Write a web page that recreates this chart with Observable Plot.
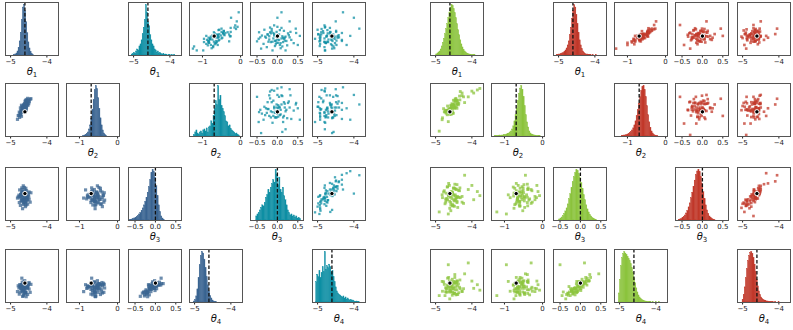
<!DOCTYPE html>
<html><head><meta charset="utf-8">
<script src="https://cdn.jsdelivr.net/npm/d3@7"></script>
<script src="https://cdn.jsdelivr.net/npm/@observablehq/plot@0.6"></script>
<style>
body{margin:0;background:#fff;}
#chart{position:relative;width:793px;height:330px;overflow:hidden;background:#fff;}
#chart svg{position:absolute;overflow:visible;}
</style></head><body><div id="chart"></div>
<script>
// ---------- data ----------
const paramNames = ["θ1","θ2","θ3","θ4"];
const truth = [-4.605, -0.693, 0, -4.605];
const domains = [[-5.14,-3.68],[-1.34,0.05],[-0.66,0.64],[-5.14,-3.68]];
const tickVals = [[-5,-4],[-1,0],[-0.5,0,0.5],[-5,-4]];
const tickFmts = ["d","d",".1f","d"];

// histogram bins: range per parameter + counts
const blueHistLo = [-4.90,-0.90,-0.64,-5.02];
const blueHistHi = [-4.36,-0.27,0.23,-4.38];
const blueHistCounts = [
 [1,2,4,8,15,28,45,70,95,100,88,66,44,26,14,7,3,1],
 [1,2,3,5,8,14,22,35,52,72,92,100,94,76,55,36,22,12,6,3,1],
 [1,1,2,3,4,5,7,9,12,15,19,24,30,37,45,55,66,80,94,100,96,85,68,48,30,17,8,4,1],
 [2,5,12,26,48,74,92,100,97,85,68,50,34,22,13,8,4,2,1,1]
];
const tealHistLo = [-5.05,-1.22,-0.52,-5.04];
const tealHistHi = [-3.85,-0.02,0.58,-3.84];
const tealHistCounts = [
 [2,3,5,4,8,12,10,18,22,30,42,55,70,100,85,66,58,40,30,22,18,12,10,6,8,4,5,3,2,3,1,2,1,0,1,1,0,1,0,1],
 [3,8,12,6,4,8,10,6,12,14,10,16,8,18,20,30,25,40,55,70,62,100,72,80,60,55,48,40,30,28,20,22,15,12,10,8,5,6,3,2],
 [8,12,15,20,25,30,28,35,45,50,60,55,65,72,80,75,100,90,70,85,60,55,65,48,40,30,20,15,10,12,8,10,6,8,4,5,3],
 [40,55,50,62,48,58,70,60,100,65,72,68,75,70,58,62,50,40,30,22,18,15,14,12,10,12,8,10,6,8,5,4,5,3,4,2,1,2,1,1]
];
const greenHistLo = [-4.98,-1.25,-0.52,-5.02];
const greenHistHi = [-3.90,-0.05,0.41,-3.88];
const greenHistCounts = [
 [2,4,6,8,12,18,25,33,42,52,62,74,85,95,100,98,92,84,74,62,50,40,30,22,16,11,8,6,4,3,2,2,1,1,1,1],
 [1,1,1,1,2,1,2,2,3,3,4,5,6,8,10,14,20,30,42,55,70,85,95,100,92,78,60,42,28,18,10,6,4,3,2,2,1,1,1,1],
 [2,4,6,9,13,18,24,32,42,52,64,76,86,94,100,98,92,84,74,62,50,40,30,22,16,11,8,5,3,2,1],
 [18,45,72,88,96,100,97,94,90,86,82,76,68,58,48,38,28,20,14,10,7,5,4,3,2,2,1,1,1,1,0,1,0,0,1,0,0,1]
];
const redHistLo = [-5.05,-1.15,-0.58,-5.00];
const redHistHi = [-3.94,-0.19,0.32,-3.98];
const redHistCounts = [
 [1,1,2,2,3,4,5,7,10,14,20,28,40,55,72,88,100,95,80,62,45,30,20,13,8,5,3,2,2,1,1,1,0,1,0,0,1],
 [1,1,2,2,3,4,5,7,9,12,16,22,30,40,52,65,78,90,98,100,92,78,60,42,28,17,10,6,3,2,1,1],
 [1,2,3,5,7,10,14,19,26,34,44,55,67,79,90,97,100,96,86,72,56,42,30,20,13,8,5,3,2,1],
 [5,15,30,48,66,82,92,98,100,96,88,75,60,45,32,22,15,10,7,5,4,3,2,2,1,1,1,1,1,0,1,0,0,1]
];

// posterior samples [θ1, θ2, θ3, θ4]
const blueSamples = [
[-4.61,-0.48,-0.14,-4.75],[-4.72,-0.75,-0.02,-4.70],[-4.56,-0.45,0.07,-4.64],[-4.65,-0.57,-0.27,-4.96],
[-4.50,-0.48,-0.08,-4.62],[-4.69,-0.61,-0.19,-4.82],[-4.62,-0.49,0.15,-4.62],[-4.77,-0.79,-0.04,-4.74],
[-4.58,-0.53,-0.10,-4.67],[-4.66,-0.61,0.02,-4.69],[-4.53,-0.34,-0.16,-4.74],[-4.70,-0.81,-0.13,-4.75],
[-4.63,-0.55,0.04,-4.67],[-4.46,-0.36,-0.21,-4.86],[-4.74,-0.73,-0.07,-4.71],[-4.59,-0.40,-0.32,-4.88],
[-4.65,-0.66,-0.01,-4.81],[-4.57,-0.61,-0.09,-4.73],[-4.68,-0.61,0.10,-4.58],[-4.55,-0.49,-0.15,-4.66],
[-4.81,-0.89,-0.11,-4.84],[-4.61,-0.52,-0.03,-4.73],[-4.64,-0.51,-0.23,-4.79],[-4.52,-0.52,0.01,-4.69],
[-4.71,-0.69,-0.17,-4.65],[-4.60,-0.66,0.08,-4.66],[-4.67,-0.59,-0.37,-4.97],[-4.57,-0.37,-0.05,-4.61],
[-4.73,-0.77,-0.09,-4.70],[-4.49,-0.43,-0.14,-4.77],[-4.69,-0.55,0.03,-4.76],[-4.63,-0.60,-0.20,-4.88],
[-4.54,-0.51,-0.07,-4.74],[-4.65,-0.66,-0.16,-4.69],[-4.58,-0.45,0.13,-4.66],[-4.76,-0.70,-0.22,-4.91],
[-4.61,-0.53,-0.02,-4.54],[-4.66,-0.70,-0.10,-4.78],[-4.53,-0.45,-0.26,-4.92],[-4.70,-0.52,-0.05,-4.65],
[-4.62,-0.61,-0.13,-4.77],[-4.44,-0.35,0.02,-4.64],[-4.68,-0.68,0.05,-4.65],[-4.57,-0.58,-0.19,-4.98],
[-4.73,-0.59,-0.29,-4.85],[-4.61,-0.63,-0.04,-4.60],[-4.65,-0.53,0.19,-4.62],[-4.56,-0.56,-0.11,-4.73],
[-4.79,-0.79,-0.08,-4.68],[-4.59,-0.51,-0.21,-4.86],[-4.69,-0.69,0.01,-4.67],[-4.51,-0.38,-0.03,-4.65],
[-4.64,-0.65,-0.15,-4.93],[-4.60,-0.42,-0.25,-4.83],[-4.75,-0.84,0.09,-4.65],[-4.55,-0.40,-0.09,-4.68],
[-4.67,-0.59,-0.17,-4.84],[-4.63,-0.61,-0.07,-4.57],[-4.49,-0.41,0.04,-4.59],[-4.72,-0.66,-0.02,-4.75],
[-4.57,-0.65,-0.28,-4.87],[-4.65,-0.59,-0.04,-4.74],[-4.61,-0.58,-0.20,-4.88],[-4.69,-0.68,0.14,-4.47]
];
const tealSamples = [
[-4.71,-0.56,0.04,-4.62],[-4.56,-0.62,-0.24,-4.90],[-4.46,-0.44,0.16,-4.49],[-4.88,-0.72,-0.06,-4.94],
[-4.64,-0.58,0.30,-4.41],[-4.77,-0.84,-0.16,-4.71],[-4.35,-0.08,0.00,-4.79],[-4.59,-0.74,-0.38,-4.93],
[-4.67,-0.50,0.10,-4.61],[-4.52,-0.40,-0.10,-4.84],[-4.74,-0.64,0.22,-4.33],[-4.70,-0.80,-0.20,-4.93],
[-4.49,-0.50,-0.02,-4.65],[-4.80,-0.66,0.40,-4.52],[-4.62,-0.78,-0.30,-4.76],[-4.94,-0.76,0.08,-4.54],
[-4.55,-0.56,-0.08,-4.98],[-4.65,-0.84,0.14,-4.57],[-4.41,-0.12,-0.14,-4.89],[-4.73,-0.58,0.18,-4.48],
[-4.68,-0.96,-0.46,-5.07],[-4.58,-0.60,0.02,-4.61],[-4.83,-0.68,-0.04,-4.63],[-4.53,-0.46,0.26,-4.66],
[-4.76,-0.62,-0.22,-4.73],[-4.44,-0.58,0.06,-4.73],[-5.00,-0.98,-0.12,-4.79],[-4.61,-0.28,0.12,-4.45],
[-4.65,-0.60,-0.28,-4.94],[-4.71,-0.88,0.34,-4.33],[-4.50,-0.34,-0.18,-4.90],[-4.79,-0.84,-0.02,-4.78],
[-4.62,-0.68,0.20,-4.55],[-4.74,-0.84,-0.06,-4.59],[-4.38,-0.26,0.10,-4.66],[-4.82,-0.90,-0.34,-4.93],
[-4.56,-0.30,0.04,-4.57],[-4.67,-0.80,-0.10,-4.81],[-4.86,-0.86,0.24,-4.60],[-4.61,-0.26,-0.20,-4.75],
[-4.70,-0.74,0.00,-4.70],[-4.52,-0.46,0.46,-4.33],[-4.47,-0.44,-0.14,-4.85],[-4.77,-0.96,0.14,-4.81],
[-4.91,-0.72,-0.26,-4.81],[-4.59,-0.52,0.02,-4.64],[-4.31,-0.14,-0.08,-4.81],[-4.68,-0.80,0.16,-4.53],
[-4.64,-0.64,-0.42,-4.92],[-4.80,-0.64,0.08,-4.77],[-4.53,-0.68,-0.16,-4.72],[-4.58,-0.42,0.28,-4.42],
[-4.73,-0.84,-0.04,-4.93],[-4.85,-0.78,0.06,-4.48],[-4.43,-0.56,-0.32,-5.00],[-4.65,-0.48,0.18,-4.45],
[-4.76,-0.70,-0.12,-4.81],[-4.62,-0.58,-0.02,-4.53],[-4.49,-0.26,0.32,-4.49],[-4.56,-0.44,-0.24,-4.98],
[-4.89,-1.22,0.12,-4.56],[-4.59,-0.60,-0.08,-4.74],[-4.79,-0.82,0.02,-4.77],[-4.37,-0.16,-0.18,-4.80],
[-4.20,-0.10,0.30,-4.50],[-4.95,-1.25,-0.40,-4.60],[-3.95,-0.05,0.10,-4.30],[-4.60,-0.90,0.55,-4.10],
[-4.75,-0.30,-0.50,-4.95],[-4.40,-0.50,0.45,-3.85],[-5.00,-1.15,0.20,-4.80],[-4.50,-0.70,-0.45,-4.65],
[-4.10,-0.25,0.00,-4.00],[-4.85,-0.60,0.50,-4.20]
];
const greenSamples = [
[-4.57,-0.55,0.01,-4.67],[-4.41,-0.60,-0.19,-4.91],[-4.43,-0.38,0.11,-4.59],[-4.71,-0.67,-0.16,-4.86],
[-4.47,-0.59,0.13,-4.45],[-4.69,-0.66,-0.12,-4.76],[-4.32,-0.16,-0.10,-4.76],[-4.54,-0.59,-0.30,-4.94],
[-4.50,-0.53,-0.04,-4.60],[-4.36,-0.47,-0.09,-4.87],[-4.67,-0.54,0.17,-4.47],[-4.53,-0.73,-0.27,-4.85],
[-4.46,-0.42,-0.03,-4.71],[-4.62,-0.64,0.20,-4.54],[-4.58,-0.60,-0.22,-4.82],[-4.76,-0.69,0.07,-4.64],
[-4.48,-0.48,-0.18,-4.89],[-4.60,-0.65,-0.01,-4.56],[-4.27,-0.27,-0.21,-4.83],[-4.54,-0.60,0.04,-4.50],
[-4.61,-0.75,-0.36,-5.04],[-4.53,-0.50,0.02,-4.70],[-4.65,-0.66,-0.04,-4.69],[-4.37,-0.51,0.08,-4.63],
[-4.58,-0.61,-0.28,-4.70],[-4.40,-0.48,-0.07,-4.69],[-4.81,-0.85,-0.10,-4.83],[-4.44,-0.39,0.10,-4.57],
[-4.48,-0.60,-0.31,-4.88],[-4.64,-0.69,0.25,-4.45],[-4.44,-0.34,-0.13,-4.93],[-4.72,-0.65,-0.13,-4.73],
[-4.57,-0.54,0.05,-4.57],[-4.57,-0.76,-0.06,-4.66],[-4.34,-0.28,0.07,-4.72],[-4.74,-0.70,-0.25,-4.95],
[-4.40,-0.40,-0.09,-4.56],[-4.61,-0.62,-0.19,-4.76],[-4.68,-0.77,0.16,-4.66],[-4.46,-0.36,-0.16,-4.79],
[-4.53,-0.69,-0.01,-4.76],[-4.47,-0.40,0.23,-4.37],[-4.41,-0.40,-0.22,-4.79],[-4.71,-0.73,0.01,-4.76],
[-4.72,-0.68,-0.21,-4.84],[-4.43,-0.55,-0.10,-4.63],[-4.27,-0.20,-0.07,-4.84],[-4.51,-0.73,0.13,-4.62],
[-4.58,-0.52,-0.42,-4.85],[-4.64,-0.61,-0.06,-4.72],[-4.50,-0.54,-0.15,-4.75],[-4.41,-0.49,0.22,-4.54],
[-4.67,-0.66,-0.15,-4.85],[-4.78,-0.61,0.04,-4.57],[-4.39,-0.47,-0.34,-4.92],[-4.50,-0.51,0.14,-4.56],
[-4.60,-0.65,-0.09,-4.85],[-4.46,-0.58,-0.06,-4.59],[-4.33,-0.38,0.14,-4.52],[-4.51,-0.39,-0.30,-4.89],
[-4.82,-0.90,-0.03,-4.56],[-4.55,-0.48,-0.12,-4.75],[-4.61,-0.75,0.01,-4.81],[-4.23,-0.30,-0.24,-4.76],
[-3.85,-0.12,0.05,-4.65],[-3.95,-0.20,-0.15,-4.75],[-4.10,-0.30,0.10,-4.05],[-3.78,-0.08,-0.05,-4.80],
[-4.90,-1.20,-0.45,-4.95],[-4.20,-0.45,0.45,-4.35],[-4.65,-0.95,-0.50,-4.10],[-4.00,-0.15,0.20,-4.55]
];
const redSamples = [
[-4.55,-0.50,-0.11,-4.74],[-4.68,-0.84,0.05,-4.69],[-4.48,-0.48,0.03,-4.52],[-4.66,-0.54,-0.25,-5.00],
[-4.47,-0.45,-0.01,-4.61],[-4.63,-0.68,-0.23,-4.76],[-4.62,-0.46,0.14,-4.51],[-4.75,-0.89,-0.08,-4.65],
[-4.58,-0.49,-0.04,-4.66],[-4.61,-0.67,0.10,-4.69],[-4.44,-0.36,-0.21,-4.66],[-4.73,-0.83,-0.07,-4.76],
[-4.57,-0.60,0.00,-4.56],[-4.42,-0.30,-0.16,-4.89],[-4.70,-0.83,-0.12,-4.61],[-4.51,-0.43,-0.30,-4.91],
[-4.67,-0.65,-0.02,-4.75],[-4.56,-0.58,-0.14,-4.64],[-4.69,-0.60,0.19,-4.55],[-4.53,-0.46,-0.08,-4.66],
[-4.79,-1.00,-0.15,-4.78],[-4.54,-0.58,-0.07,-4.64],[-4.58,-0.55,-0.19,-4.80],[-4.50,-0.48,0.09,-4.68],
[-4.74,-0.68,-0.12,-4.64],[-4.60,-0.65,0.06,-4.55],[-4.62,-0.65,-0.35,-5.03],[-4.49,-0.40,0.02,-4.59],
[-4.76,-0.80,-0.02,-4.70],[-4.39,-0.45,-0.18,-4.70],[-4.64,-0.62,0.02,-4.69],[-4.64,-0.58,-0.26,-4.82],
[-4.52,-0.48,-0.11,-4.66],[-4.59,-0.73,-0.11,-4.69],[-4.51,-0.48,0.12,-4.55],[-4.72,-0.79,-0.28,-4.87],
[-4.61,-0.49,0.06,-4.51],[-4.68,-0.70,-0.15,-4.70],[-4.45,-0.46,-0.22,-4.97],[-4.66,-0.57,0.00,-4.62],
[-4.56,-0.67,-0.07,-4.79],[-4.40,-0.27,-0.01,-4.53],[-4.70,-0.67,0.05,-4.56],[-4.55,-0.56,-0.25,-4.94],
[-4.69,-0.64,-0.26,-4.88],[-4.62,-0.62,0.03,-4.58],[-4.60,-0.58,0.19,-4.50],[-4.47,-0.62,-0.05,-4.73],
[-4.83,-0.82,-0.12,-4.58],[-4.59,-0.47,-0.18,-4.88],[-4.65,-0.75,-0.04,-4.55],[-4.41,-0.41,0.05,-4.64],
[-4.65,-0.63,-0.21,-4.88],[-4.53,-0.44,-0.32,-4.76],[-4.78,-0.88,0.07,-4.54],[-4.46,-0.43,-0.04,-4.66],
[-4.61,-0.66,-0.14,-4.85],[-4.59,-0.65,0.00,-4.55],[-4.46,-0.36,0.13,-4.57],[-4.75,-0.65,-0.05,-4.67],
[-4.57,-0.64,-0.36,-4.81],[-4.63,-0.62,-0.09,-4.64],[-4.55,-0.64,-0.15,-4.92],[-4.71,-0.69,0.23,-4.41],
[-4.95,-1.30,-0.30,-4.90],[-4.30,-0.30,-0.55,-4.70],[-4.55,-0.50,0.30,-4.10],[-4.65,-0.60,0.25,-4.30],
[-4.40,-0.35,0.45,-4.05],[-4.85,-1.00,-0.45,-4.95],[-4.20,-0.25,0.10,-4.50],[-4.60,-0.80,0.50,-4.35]
];

// ---------- layout / style ----------
const COLORS = {blue:"#3b6592", teal:"#0f8fa4", green:"#8cc43e", red:"#c1392b"};
const ML=8, MR=8, MT=3, MB=30, PW=53, PH=53;
const groupCols = [[5,66.3,127.7,189,250.3,311.7],[430,491.3,552.7,614,675.3,736.7]];
const rowTops = [2,83,167,249];

const sets = [
  {group:0, lower:true,  color:COLORS.blue,  r:1.8,  samples:blueSamples,  lo:blueHistLo,  hi:blueHistHi,  counts:blueHistCounts},
  {group:0, lower:false, color:COLORS.teal,  r:1.3,  samples:tealSamples,  lo:tealHistLo,  hi:tealHistHi,  counts:tealHistCounts},
  {group:1, lower:true,  color:COLORS.green, r:1.6,  samples:greenSamples, lo:greenHistLo, hi:greenHistHi, counts:greenHistCounts},
  {group:1, lower:false, color:COLORS.red,   r:1.5,  samples:redSamples,   lo:redHistLo,   hi:redHistHi,   counts:redHistCounts}
];

const chart = document.getElementById("chart");

function axis(p) {
  return Plot.axisX({ticks: tickVals[p], tickFormat: d3.format(tickFmts[p]), tickSize: 2.5, tickPadding: 1.5, fontSize: 7, label: null});
}

function place(svg, left, top) {
  svg.style.left = (left - ML) + "px";
  svg.style.top = (top - MT) + "px";
  svg.querySelectorAll("text").forEach(t => {
    const m = /^θ(\d)$/.exec(t.textContent);
    if (m) {
      t.textContent = "";
      const a = document.createElementNS("http://www.w3.org/2000/svg","tspan");
      a.setAttribute("font-style","italic"); a.textContent = "θ";
      const b = document.createElementNS("http://www.w3.org/2000/svg","tspan");
      b.setAttribute("font-size","7"); b.setAttribute("dy","2.5"); b.textContent = m[1];
      t.appendChild(a); t.appendChild(b);
    }
  });
  chart.appendChild(svg);
}

function base(xdom, ydom, marks) {
  return Plot.plot({
    width: PW+ML+MR, height: PH+MT+MB,
    marginLeft: ML, marginRight: MR, marginTop: MT, marginBottom: MB,
    x: {domain: xdom}, y: {domain: ydom, axis: null},
    style: {background: "transparent", overflow: "visible", fontFamily: "DejaVu Sans, sans-serif", fontSize: "7px", color: "#222"},
    marks
  });
}

function histPanel(s, p, left, top) {
  const n = s.counts[p].length, lo = s.lo[p], hi = s.hi[p], w = (hi - lo) / n;
  const bins = s.counts[p].map((c, i) => ({x1: lo + i*w, x2: lo + (i+1)*w, c}));
  const ymax = d3.max(s.counts[p]) * 1.05;
  const svg = base(domains[p], [0, ymax], [
    Plot.rectY(bins, {x1:"x1", x2:"x2", y:"c", fill: s.color, stroke: s.color, strokeWidth: 0.35}),
    Plot.ruleX([truth[p]], {stroke:"#111", strokeWidth:1.3, strokeDasharray:"3.5,2"}),
    axis(p),
    Plot.text([paramNames[p]], {text: d => d, frameAnchor: "bottom", dy: 19, fontSize: 10, fill: "#111"}),
    Plot.frame({stroke:"#555"})
  ]);
  place(svg, left, top);
}

function scatterPanel(s, xi, yi, left, top) {
  const svg = base(domains[xi], domains[yi], [
    Plot.dot(s.samples, {x: d => d[xi], y: d => d[yi], r: s.r, symbol: "square", fill: s.color, fillOpacity: 0.75, clip: true}),
    Plot.dot([truth], {x: d => d[xi], y: d => d[yi], r: 2.2, fill: "black", stroke: "white", strokeWidth: 1}),
    axis(xi),
    Plot.frame({stroke:"#555"})
  ]);
  place(svg, left, top);
}

for (const s of sets) {
  const cols = groupCols[s.group];
  for (let i = 0; i < 4; i++) {
    if (s.lower) {
      for (let j = 0; j <= i; j++) {
        if (j === i) histPanel(s, i, cols[j], rowTops[i]);
        else scatterPanel(s, j, i, cols[j], rowTops[i]);
      }
    } else {
      for (let k = i; k < 4; k++) {
        if (k === i) histPanel(s, i, cols[k+2], rowTops[i]);
        else scatterPanel(s, k, i, cols[k+2], rowTops[i]);
      }
    }
  }
}
</script></body></html>
